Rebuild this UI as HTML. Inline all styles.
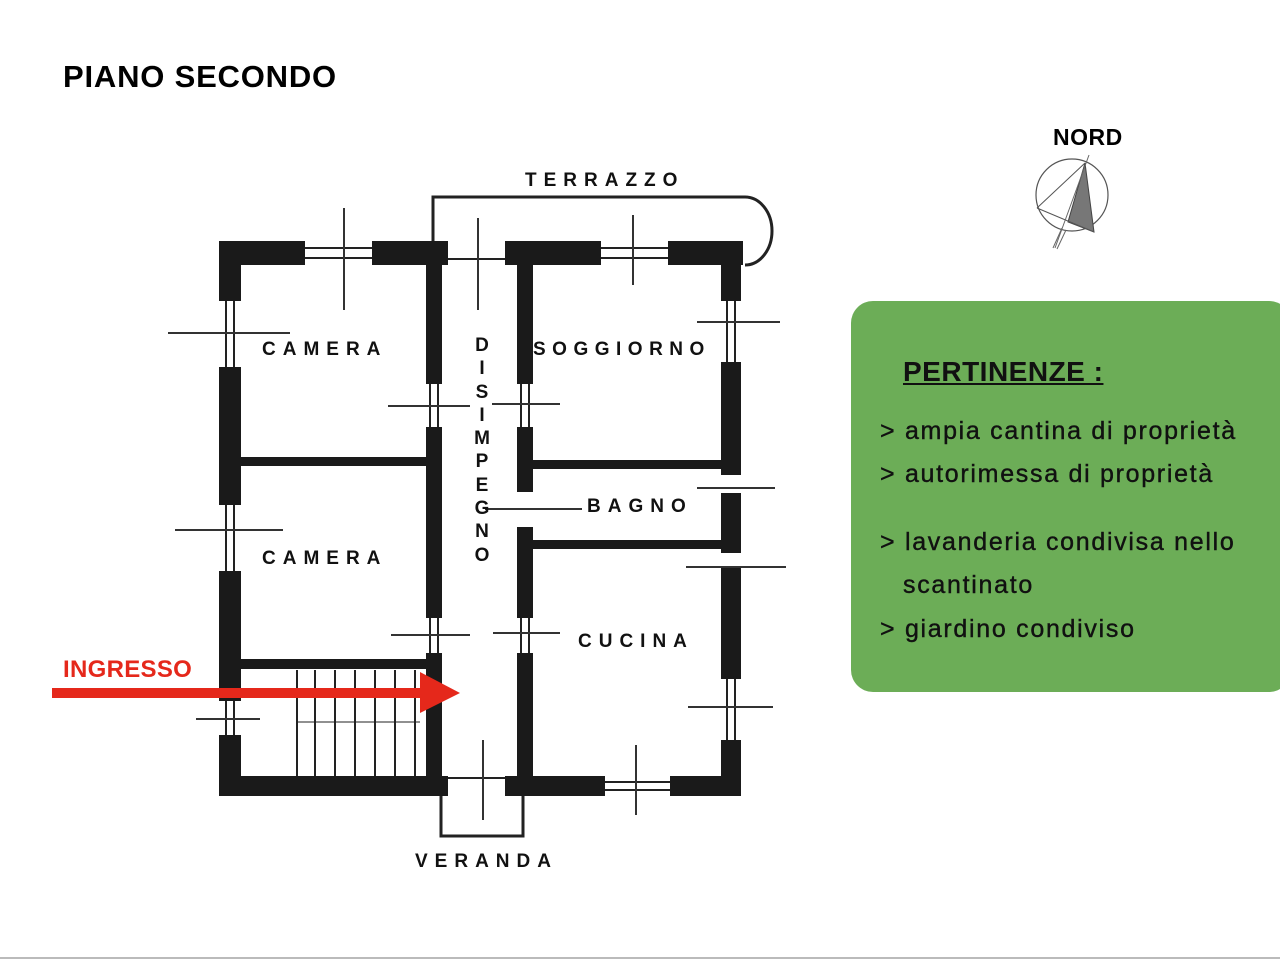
<!DOCTYPE html>
<html><head><meta charset="utf-8"><style>
html,body{margin:0;padding:0;background:#fff;}
body{width:1280px;height:960px;position:relative;overflow:hidden;font-family:"Liberation Sans",Arial,sans-serif;}
.t{position:absolute;font-weight:bold;white-space:nowrap;}
.lbl{position:absolute;font-weight:bold;font-size:19px;letter-spacing:7px;color:#111;white-space:nowrap;line-height:1;}
#box{position:absolute;left:851px;top:301px;width:440px;height:391px;background:#6cad57;border-radius:22px;}
#box div{position:absolute;left:29px;font-size:25px;letter-spacing:1.7px;color:#111;white-space:nowrap;line-height:1;-webkit-text-stroke:0.4px #111;}
</style></head><body>
<div class="t" style="left:63px;top:59px;font-size:31px;letter-spacing:0.8px;">PIANO SECONDO</div>
<div class="t" style="left:1053px;top:124px;font-size:23px;letter-spacing:0.5px;">NORD</div>

<svg width="1280" height="960" style="position:absolute;left:0;top:0">
 <circle cx="1072" cy="195" r="36" fill="none" stroke="#555" stroke-width="1.2"/>
 <polygon points="1085,163 1068,222 1094,232" fill="#777" stroke="#444" stroke-width="1"/>
 <line x1="1037" y1="208" x2="1085" y2="163" stroke="#555"/>
 <line x1="1037" y1="208" x2="1094" y2="232" stroke="#555"/>
 <line x1="1089" y1="155" x2="1055" y2="248" stroke="#666"/>
 <line x1="1062" y1="228" x2="1053" y2="248" stroke="#666"/>
 <line x1="1066" y1="230" x2="1057" y2="249" stroke="#666"/>

 <g fill="#1a1a1a">
  <rect x="219" y="241" width="86" height="24"/>
  <rect x="372" y="241" width="76" height="24"/>
  <rect x="505" y="241" width="96" height="24"/>
  <rect x="668" y="241" width="75" height="24"/>
  <rect x="219" y="241" width="22" height="60"/>
  <rect x="219" y="367" width="22" height="138"/>
  <rect x="219" y="571" width="22" height="130"/>
  <rect x="219" y="735" width="22" height="60"/>
  <rect x="721" y="241" width="20" height="60"/>
  <rect x="721" y="362" width="20" height="113"/>
  <rect x="721" y="493" width="20" height="60"/>
  <rect x="721" y="566" width="20" height="113"/>
  <rect x="721" y="740" width="20" height="56"/>
  <rect x="219" y="776" width="229" height="20"/>
  <rect x="505" y="776" width="100" height="20"/>
  <rect x="670" y="776" width="71" height="20"/>
  <rect x="426" y="241" width="16" height="143"/>
  <rect x="426" y="427" width="16" height="191"/>
  <rect x="426" y="653" width="16" height="143"/>
  <rect x="517" y="241" width="16" height="143"/>
  <rect x="517" y="427" width="16" height="65"/>
  <rect x="517" y="527" width="16" height="91"/>
  <rect x="517" y="653" width="16" height="143"/>
  <rect x="241" y="457" width="185" height="9"/>
  <rect x="241" y="659" width="185" height="10"/>
  <rect x="533" y="460" width="188" height="9"/>
  <rect x="533" y="540" width="188" height="9"/>
 </g>
 <g stroke="#222" stroke-width="2" fill="none">
  <line x1="305" y1="248" x2="372" y2="248"/><line x1="305" y1="258" x2="372" y2="258"/>
  <line x1="601" y1="248" x2="668" y2="248"/><line x1="601" y1="258" x2="668" y2="258"/>
  <line x1="448" y1="259" x2="505" y2="259"/>
  <line x1="226" y1="301" x2="226" y2="367"/><line x1="234" y1="301" x2="234" y2="367"/>
  <line x1="226" y1="505" x2="226" y2="571"/><line x1="234" y1="505" x2="234" y2="571"/>
  <line x1="226" y1="701" x2="226" y2="735"/><line x1="234" y1="701" x2="234" y2="735"/>
  <line x1="727" y1="301" x2="727" y2="362"/><line x1="735" y1="301" x2="735" y2="362"/>
  <line x1="727" y1="679" x2="727" y2="740"/><line x1="735" y1="679" x2="735" y2="740"/>
  <line x1="605" y1="782" x2="670" y2="782"/><line x1="605" y1="790" x2="670" y2="790"/>
  <line x1="448" y1="778" x2="505" y2="778"/>
  <line x1="430" y1="384" x2="430" y2="427"/><line x1="438" y1="384" x2="438" y2="427"/>
  <line x1="430" y1="618" x2="430" y2="653"/><line x1="438" y1="618" x2="438" y2="653"/>
  <line x1="521" y1="384" x2="521" y2="427"/><line x1="529" y1="384" x2="529" y2="427"/>
  <line x1="521" y1="618" x2="521" y2="653"/><line x1="529" y1="618" x2="529" y2="653"/>
  <polyline points="441,796 441,836 523,836 523,796" stroke-width="3"/>
  <path d="M433,241 L433,197 L745,197 A27,34 0 0 1 745,265" stroke-width="3"/>
  <line x1="297" y1="670" x2="297" y2="776"/><line x1="315" y1="670" x2="315" y2="776"/>
  <line x1="335" y1="670" x2="335" y2="776"/><line x1="355" y1="670" x2="355" y2="776"/>
  <line x1="375" y1="670" x2="375" y2="776"/><line x1="395" y1="670" x2="395" y2="776"/>
  <line x1="415" y1="670" x2="415" y2="776"/>
  <line x1="297" y1="722" x2="420" y2="722" stroke-width="1"/>
 </g>
 <g stroke="#333" stroke-width="2">
  <line x1="344" y1="208" x2="344" y2="310"/>
  <line x1="478" y1="218" x2="478" y2="310"/>
  <line x1="633" y1="215" x2="633" y2="285"/>
  <line x1="168" y1="333" x2="290" y2="333"/>
  <line x1="175" y1="530" x2="283" y2="530"/>
  <line x1="196" y1="719" x2="260" y2="719"/>
  <line x1="388" y1="406" x2="470" y2="406"/>
  <line x1="492" y1="404" x2="560" y2="404"/>
  <line x1="697" y1="322" x2="780" y2="322"/>
  <line x1="697" y1="488" x2="775" y2="488"/>
  <line x1="485" y1="509" x2="582" y2="509"/>
  <line x1="686" y1="567" x2="786" y2="567"/>
  <line x1="391" y1="635" x2="470" y2="635"/>
  <line x1="493" y1="633" x2="560" y2="633"/>
  <line x1="688" y1="707" x2="773" y2="707"/>
  <line x1="636" y1="745" x2="636" y2="815"/>
  <line x1="483" y1="740" x2="483" y2="820"/>
 </g>
 <rect x="52" y="688" width="372" height="10" fill="#e5281b"/>
 <polygon points="420,672 460,693 420,713" fill="#e5281b"/>
 <line x1="0" y1="958" x2="1280" y2="958" stroke="#bbb" stroke-width="2"/>
</svg>

<div class="t" style="left:63px;top:656px;font-size:24px;color:#e5281b;letter-spacing:0.3px;">INGRESSO</div>

<div class="lbl" style="left:525px;top:171px;">TERRAZZO</div>
<div class="lbl" style="left:262px;top:340px;">CAMERA</div>
<div class="lbl" style="left:533px;top:340px;letter-spacing:6.5px;">SOGGIORNO</div>
<div class="lbl" style="left:587px;top:497px;">BAGNO</div>
<div class="lbl" style="left:262px;top:549px;">CAMERA</div>
<div class="lbl" style="left:578px;top:632px;">CUCINA</div>
<div class="lbl" style="left:415px;top:852px;">VERANDA</div>
<div class="lbl" style="left:473px;top:334px;width:18px;text-align:center;letter-spacing:0;line-height:23.3px;white-space:normal;">D<br>I<br>S<br>I<br>M<br>P<br>E<br>G<br>N<br>O</div>

<div id="box">
 <div style="left:52px;top:57px;font-size:28px;font-weight:bold;text-decoration:underline;letter-spacing:0.5px;-webkit-text-stroke:0;">PERTINENZE :</div>
 <div style="top:118px;">&gt; ampia cantina di proprietà</div>
 <div style="top:161px;">&gt; autorimessa di proprietà</div>
 <div style="top:229px;">&gt; lavanderia condivisa nello</div>
 <div style="top:272px;left:52px;">scantinato</div>
 <div style="top:316px;">&gt; giardino condiviso</div>
</div>
</body></html>
